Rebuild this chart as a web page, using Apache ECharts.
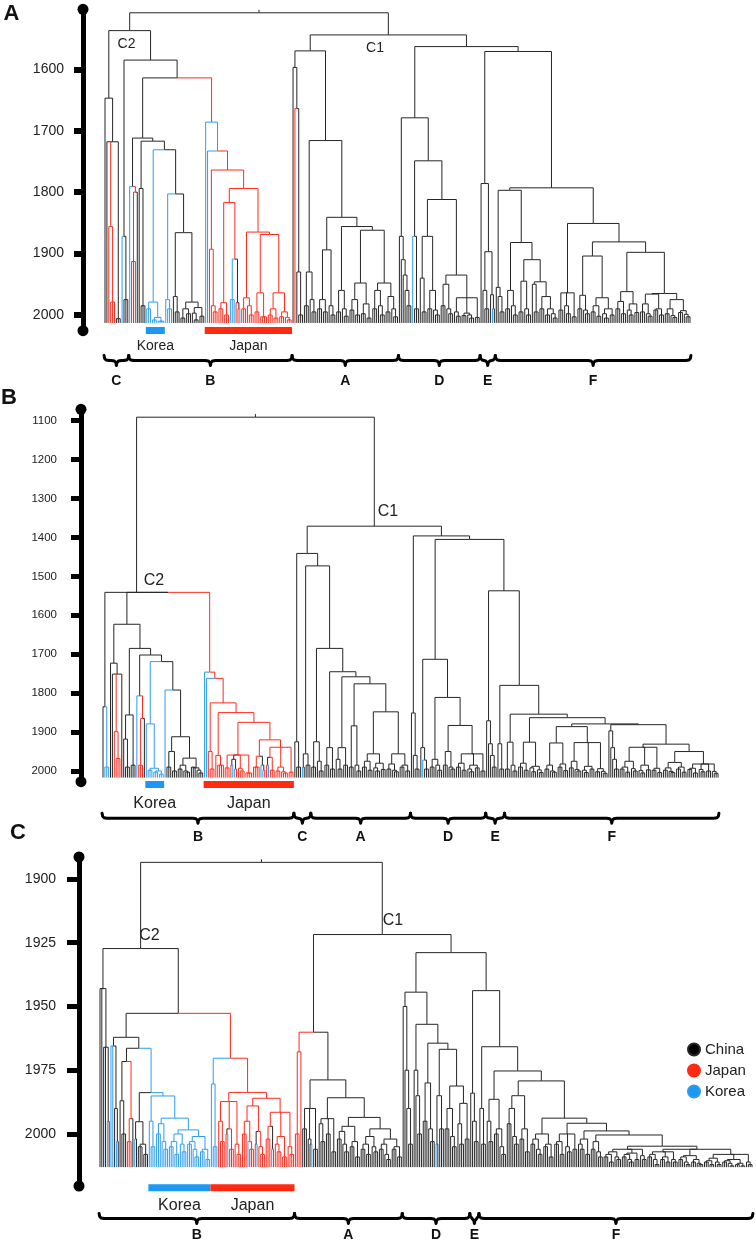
<!DOCTYPE html>
<html><head><meta charset="utf-8">
<script src="https://cdn.jsdelivr.net/npm/echarts@6/dist/echarts.min.js"></script>
<style>html,body{margin:0;padding:0;background:#fff}#c{width:756px;height:1246px}</style>
</head><body><div id="c"></div>
<script>
// ---------------- DATA ----------------
// Trees in a Newick-like notation: leaf = k (China) / r (Japan) / b (Korea), "k3" = 3 sibling leaves.
// "(...)YEAR[c]" = merge node at YEAR (optional forced colour). Markers: | bracket boundary, [ ] Korea bar, { } Japan bar.
const ticksA = [1600, 1700, 1800, 1900, 2000];
const ticksB = [1100, 1200, 1300, 1400, 1500, 1600, 1700, 1800, 1900, 2000];
const ticksC = [1900, 1925, 1950, 1975, 2000];
const bracketsA = ['C', 'B', 'A', 'D', 'E', 'F'];
const bracketsB = ['B', 'C', 'A', 'D', 'E', 'F'];
const bracketsC = ['B', 'A', 'D', 'E', 'F'];
const legendNames = ['China', 'Japan', 'Korea'];

// ---- Panel A ----
const A_L = "(k,(k,(r,(r2,r)1979)1856,(k3)2006)1718)1647";
const A_N1872 = "(b,(k2,k)1975)1872";
const A_N1791 = "(b,((r2,r)1913,k)1800)1791";
const A_N1794 = "(k,(k2,k)1985)1794";
const A_korea = "((b2,b)1990,((b3)2008,(b4)2010)2004)1979";
const A_N1975 = "(b,(b2,b)1990)1975";
const A_N1970 = "(k,(k3)1995)1970";
const A_N1979 = "(((k2,k)2005,(k2,k)1998)1990,((k,(k2,k)2008)1997,(k2,k)2002)1988)1979";
const A_J1893 = "(r,(r,(r2,r)1995)1985)1893";
const A_J219 = "((r2,r)1990,(r3)2000)1980";
const A_J232 = "((b2,b)1975,(r,(r,b)1990)1980)1909r";
const A_J242 = "((r2,r)1990,(r,(r2,r)2000)1985)1972";
const A_J261a = "((r2,r)1995,(r4)2003)1964";
const A_J261b = "(((r2,r)2000,(r2,r)2005)1990,((r2,r)2003,(r,(r2,r)2008)2004)1995)1964";
const A_AL = "(k,(r,(k,(k2,k)2000)1930)1664)1597";
const A_A299 = "((k2,k)1985,(k,(k2,k)1995)1975)1930";
const A_A307 = "(((k2,k)1990,(k2,k)1995)1975,(k,(k2,k)2000)1985)1894";
const A_A1856 = "((k2,k)1995,(k,(k2,k)2002)1990)1960";
const A_A1862L = "(((k2,k)1992,(k2,k)2000)1975,((k2,k)1998,(k3)2005)1982)1948";
const A_A1862R = "(((k2,k)1990,(k,(k2,k)2000)1985)1960,((k2,k)1995,(k,(k2,k)2003)1990)1970)1948";
const A_D398 = "(k,(k,(k,(k,(k2,k)1985)1960)1935)1910)1872";
const A_D410 = "(b,(k2,k)1990)1872";
const A_D420 = "((k,(k2,k)1995)1940,((k2,k)1990,(k,(k2,k)2000)1992)1960)1872";
const A_D448 = "(((k2,k)1985,(k,(k2,k)1998)1990)1950,((k,(k2,k)2002)1995,((k2,k)2001,(k,(k2,k)2005)2000)1997,(k2,k)2004)1972)1935";
const A_E = "(k,((k,(k2,k)1990)1960,(k,(b,k)1990)1967)1897)1786";
const A_F494 = "(k,(k,(k2,k)1995)1970)1955";
const A_F503 = "((k2,k)1990,(k,(k2,k)2000)1985)1960";
const A_F514 = "((k2,k)1995,(k,(k2,k)2000)1990)1945";
const A_F523 = "((k,(k2,k)1995)1950,((k2,k)1990,((k2,k)2000,(k,(k2,k)2005)1998)1990)1970)1946";
const A_F557 = "((k2,k)1992,(k,(k2,k)1998)1985,(k2,k)2003)1964";
const A_F574a = "((k2,k)1990,(k,(k2,k)1998)1992)1968";
const A_F574b = "(((k2,k)1995,(k2,k)2002)1985,((k,(k2,k)2005)1998,(k2,k)2000)1990)1972";
const A_F623 = "(((k2,k)1990,(k2,k)1998)1978,((k,(k2,k)2000)1992,(k2,k)1996)1982)1962";
const A_F648 = "((((k2,k)1995,(k,(k2,k)2002)1998)1982,((k2,k)1992,(k2,k)2000)1990)1966,(((k2,k)1998,(k,(k2,k)2004)2001)1990,((k2,k)1996,(k,(k2,k)2003)1999)1993)1975)1965";

const A_C2 = `(${A_L},(${A_N1872},|((${A_N1791},(${A_N1794},([${A_korea}],(${A_N1975},(${A_N1970},${A_N1979})1866)1803)1731)1717)1712,({b,(b,(${A_J1893},((${A_J219},${A_J232})1817r,(${A_J242},(${A_J261a},${A_J261b})1869)1865)1794)1764r)1733b})1686r)1614)1585)1537`;
const A_N1570 = `(${A_AL},(${A_A299},(${A_A307},(${A_A1856},(${A_A1862L},${A_A1862R})1862)1856)1841)1716)1570`;
const A_N1679 = `(${A_D398},(${A_D410},(${A_D420},${A_D448})1812)1749)1679`;
const A_N1793 = `((${A_F494},(${A_F503},(${A_F514},${A_F523})1910)1882)1797,(${A_F557},((${A_F574a},${A_F574b})1904,(${A_F623},${A_F648})1898)1881)1851)1793`;
const A_C1 = `(${A_N1570},|(${A_N1679},|(${A_E},|${A_N1793})1571)1563)1544`;
const treeA = `|(${A_C2},|${A_C1})1508|`;

// ---- Panel B ----
const B_LT = "(k,(b2,b)1990)1835k";
const B_N1723 = "(k,(k,(r,(r2,r)1968)1899,k)1751)1723";
const B_N1856 = "((k,(k2,k)1990)1918,(k2,k)1985)1856";
const B_N1807 = "(b,((r2,r)1985,k)1865)1807";
const B_korea = "(b,((b2,b)1998,((b2,b)2003,(b3)2008)2000)1993)1879";
const B_N1950 = "((k2,k)1990,(k2,k)2000)1950";
const B_N1967 = "(((k2,k)1995,(k,(k2,k)2003)2000)1985,((k2,k)1990,(k,(k2,k)2005)1998)1992)1967";
const B_J213 = "(r,(r2,r)1995)1950";
const B_J214 = "(r,(r3,r)1985)1960";
const B_J220 = "((r2,r)1992,((r,b)1985,(b,r)1995)1970,(r,(r2,r)2000)1993,(r3,r)2005)1959";
const B_J251 = "((r3,r)1990,(b,(b,r)1998)1985)1962r";
const B_J264 = "(((r,b)1985,(r2,r)1998)1965,((r2,r)2000,(r,(r2,r)2005)2002)1990,(r2,r)2003)1939";
const B_Cthin = "(k,(k2,k)1990)1925";
const B_Ccomb = "((b,k)1990,(k2,k)1985)1956";
const B_A304 = "((k2,k)1990,(k,(k2,k)2000)1975)1925";
const B_A307 = "((k2,k)1985,(k2,k)1995)1940";
const B_A317 = "((k,(k2,k)1995)1970,(k2,k)1985)1940";
const B_A1884 = "((k2,k)1990,(k,(k2,k)2000)1985)1884";
const B_A354 = "(((k2,k)1990,(k2,k)1998)1975,((k,(k2,k)2000)1992,(k2,k)1996)1980)1956";
const B_A380 = "(((k2,k)1995,(k,(k2,k)2002)1998)1982,((k2,k)1990,(k2,k)2000)1985)1956";
const B_Dthin = "(k,(k,(k2,k)1995)1960)1851";
const B_D412 = "(k,(b,(k2,k)1995)1972)1940";
const B_D418 = "((k2,k)1990,(k,(k2,k)1998)1985)1970";
const B_D428 = "((k2,k)1985,(k,(k2,k)1995)1990)1950";
const B_D460 = "(((k2,k)1990,(k2,k)1998)1980,((k,(k2,k)2002)1995,(k2,k)1992)1985,(k2,k)2000)1956";
const B_Ethin = "(k,(k,(k,(k2,k)1990)1960)1930)1871";
const B_E502 = "(k,(k2,k)1995)1930";
const B_F513 = "((k2,k)1995,(k,(k2,k)2000)1985)1926";
const B_F523 = "(((k2,k)1990,(k2,k)1998)1980,((k,(k2,k)2002)1992,(k,(k2,k)2004)1997)1988)1926";
const B_F573 = "(((k2,k)1995,(k,(k2,k)2003)2000)1985,((k2,k)1990,(k2,k)1999)1982)1928";
const B_F587 = "(((k2,k)1992,(k,(k2,k)2000)1996)1975,((k,(k2,k)2004)1998,(k2,k)1995)1988,((k2,k)2002,(k,(k2,k)2006)2001)1994)1927";
const B_F646 = "(k,(k,(k,(k2,k)1995)1970)1940)1897";
const B_F666 = "((((k2,k)1995,(k2,k)2003)1990,(k,(k2,k)2000)1994)1975,((k,(k2,k)2005)1999,(k2,k)1997)1985,((k2,k)1998,(k2,k)2004)1993)1939";
const B_F692 = "((((k2,k)1998,(k,(k2,k)2004)2001)1992,((k2,k)1995,(k2,k)2003)1990)1978,(((k2,k)1996,(k2,k)2005)1993,(k,(k2,k)2002)1996,(k2,k)2000,(k,(k2,k)2006)2001)1982)1950";

const B_N1623 = `(${B_N1723},(${B_N1856},(${B_N1807},([${B_korea}],(b,(${B_N1950},${B_N1967})1912)1792)1719)1702)1685)1623`;
const B_Japan = `({b,(b,(${B_J213},(${B_J214},(${B_J220},(${B_J251},${B_J264})1920)1875)1850)1825)1762r})1746r`;
const B_C2 = `(${B_LT},(${B_N1623},${B_Japan})1541)1541`;
const B_N1441 = `(${B_Cthin},(${B_Ccomb},|(${B_A304},(${B_A307},(${B_A317},(${B_A1884},(${B_A354},${B_A380})1848)1776)1758)1745)1685)1473)1441`;
const B_N1780 = `(${B_E502},|(${B_F513},(${B_F523},((${B_F573},${B_F587})1886,(${B_F646},(${B_F666},${B_F692})1931)1881)1879)1863)1854)1780`;
const B_N1396 = `(${B_Dthin},((${B_D412},(${B_D418},(${B_D428},${B_D460})1883)1811)1713,|(${B_Ethin},${B_N1780})1537)1405)1396`;
const B_C1 = `(${B_N1441},|${B_N1396})1371`;
const treeB = `|(${B_C2},|${B_C1})1091|`;

// ---- Panel C ----
const C_Lthin = "(k2,(k2,(b,k)1995)1966)1943";
const C_104 = "(b2,(k,(b,k)2003)1990)1965.5";
const C_1972 = "((k,(k2,k)2000)1987,((r2,r)2003,k)1994)1971.6";
const C_129 = "((b,k)2002,((k2,k)2005,(k2,k)2008)2004)1995.2";
const C_K1 = "(b,(b2,b)2005)1995";
const C_K159 = "((b2,b)2000,(b,(b2,b)2006)2003)1996";
const C_K171 = "(((b2,b)2005,(b2,b)2008)2003,(b,(b2,b)2007)2004)2000";
const C_K190 = "(((b2,b)2004,(b,(b2,b)2009)2006)2003,((b2,b)2007,(b2,b)2010)2006)2001";
const C_Jb = "(b,(b2,b)2005)1980.4";
const C_J223 = "((r,(r2,r)2003)1995,((r,b)2000,(r2,r)2006)1998,(r,(r2,r)2008)2004)1987.3";
const C_J250 = "(((r2,r)2000,(b,(r2,r)2006)2003)1995,((r,b)2004,(r,(r2,r)2008)2005)1999)1989";
const C_J280 = "(((r2,r)2002,(b,r)2006)1997,((r,(r2,r)2007)2004,(r2,r)2009)2001,(r,(r2,r)2008)2005)1991.5";
const C_Red = "((r2,r)2000,r)1967.8";
const C_A302 = "((k2,k)1998,(k,(k,b)2004)2002,(k2,k)2006)1990";
const C_A308 = "((k,(k2,k)2003)1996,(k2,k)2000,(k2,k)2007)1994";
const C_A328 = "(((k2,k)2002,(k,(k2,k)2007)2004)1999,((k2,k)2005,(k2,k)2009)2003)1997";
const C_A380 = "((((k2,k)2006,(k2,k)2008)2004,(k,(k2,k)2007)2005)2001,(((k2,k)2006,(k,(k2,k)2010)2008)2004,((k2,k)2006,(k2,k)2009)2005)2002)1998";
const C_Dthin = "(k,(k,(k,(k2,k)2004)1990)1975)1950";
const C_D409 = "(k,(k,(k2,k)2000)1985)1975";
const C_D413 = "((k2,k)1995,(k,(k2,k)2003)1998)1980";
const C_D421 = "((b,k)2004,(k2,k)1998)1985";
const C_D430 = "((k2,k)1998,(k,(k2,k)2005)2001)1990";
const C_D444 = "((k,(k2,k)2004)1996,(k2,k)2002)1988";
const C_Ethin = "(k,(k,(k2,k)2003)1995)1984";
const C_F489 = "(k,(k2,k)2004)1990";
const C_F497 = "((k,(k2,k)2003)1995,((k2,k)2000,(k,(k2,k)2008)2005)1998)1986.4";
const C_F508 = "(((k2,k)1996,(k,(k2,k)2004)2001)1990,((k2,k)2002,(k2,k)2007)1998)1985";
const C_F571 = "(((k2,k)2004,(k,(k2,k)2008)2006)2002,((k2,k)2005,(k2,k)2009)2004)2000";
const C_F584 = "(((k2,k)2004,(k2,k)2008)2003,(k,(k2,k)2007)2005,(k2,k)2006)2000";
const C_F619 = "((k,(k2,k)2006)2004,(k2,k)2008)2002";
const C_F620 = "((k2,k)2006,(k,(k2,k)2009)2007)2003";
const C_F632 = "((((k2,k)2009,(k2,k)2011)2008,(k,(k2,k)2010)2009)2007,(((k2,k)2009,(k,(k2,k)2011)2010)2008,(k2,k)2010)2007.5,(k,(k2,k)2010)2008.5)2006";
const C_F663 = "(((k2,k)2009,(k,(k2,k)2012)2010)2008,((k2,k)2010,(k2,k)2011)2009,(k,(k2,k)2011)2010)2007";
const C_F690 = "(((k2,k)2010,(k,(k2,k)2012)2011)2009,((k2,k)2011,(k,(k2,k)2012)2011.5)2010)2008.5";
const C_F703 = "((((k2,k)2011,(k2,k)2012)2010.5,(k,(k2,k)2012)2011)2009.5,(((k2,k)2011,(k,(k2,k)2012.5)2011.5)2010.5,((k2,k)2012,(k2,k)2012.5)2011.5)2010,(k,(k2,k)2012)2011)2008";

const C_Korea = `(${C_K1},(${C_K159},(${C_K171},${C_K190})1998.4)1993.8)1985.1`;
const C_Japan = `({${C_Jb},(${C_J223},(${C_J250},${C_J280})1986)1983.7})1970.3`;
const C_C2 = `(${C_Lthin},((${C_104},(${C_1972},(${C_129},[${C_Korea}])1983.8)1966.4)1962.1,${C_Japan})1952.7)1927.3`;
const C_N1960 = `(${C_Red},(${C_A302},(${C_A308},(${C_A328},${C_A380})1993.5)1985.8)1978.8)1960.1`;
const C_N1944 = `(${C_Dthin},(${C_D409},(${C_D413},(${C_D421},(${C_D430},${C_D444})1981.2)1966.8)1964.4)1957)1944.4`;
const C_F = `(${C_F489},(${C_F497},(${C_F508},(${C_F571},(${C_F584},(${C_F619},(${C_F620},(${C_F632},(${C_F663},${C_F690},${C_F703})2006)2004.8)2000.4)1998.8)1995.8)1993.8)1979.2)1975.3)1965.8`;
const C_C1 = `(${C_N1960},|(${C_N1944},|(${C_Ethin},|${C_F})1943.8)1928.9)1921.8`;
const treeC = `|(${C_C2},|${C_C1})1893.5|`;

// ---------------- PARSE / LAYOUT ----------------
function parseTree(str) {
  let i = 0, leafCount = 0;
  const marks = { br: [], kor: [], jap: [] };
  function skip() {
    while (i < str.length) {
      const c = str[i];
      if (c === ' ' || c === '\n') { i++; continue; }
      if (c === '|') { marks.br.push(leafCount - 0.5); i++; continue; }
      if (c === '[' || c === ']') { marks.kor.push(leafCount - 0.5); i++; continue; }
      if (c === '{' || c === '}') { marks.jap.push(leafCount - 0.5); i++; continue; }
      break;
    }
  }
  function readNum() { const s = i; while (i < str.length && /[0-9.]/.test(str[i])) i++; return parseFloat(str.slice(s, i)); }
  function parseNode() {
    skip();
    if (str[i] === '(') {
      i++;
      const kids = [];
      for (;;) {
        kids.push(...parseNode());
        skip();
        if (str[i] === ',') { i++; continue; }
        if (str[i] === ')') { i++; break; }
        throw new Error('tree parse error near: ' + str.slice(Math.max(0, i - 20), i + 20));
      }
      const h = readNum();
      let ec = null;
      if (i < str.length && /[krb]/.test(str[i])) { ec = str[i]; i++; }
      return [{ h, ec, kids }];
    }
    const c = str[i];
    if (!/[krb]/.test(c)) throw new Error('leaf parse error near: ' + str.slice(Math.max(0, i - 20), i + 20));
    i++;
    let n = 1;
    if (i < str.length && /[0-9]/.test(str[i])) n = readNum();
    const out = [];
    for (let j = 0; j < n; j++) out.push({ leaf: true, c, idx: leafCount++ });
    return out;
  }
  const root = parseNode()[0];
  skip();
  return { root, marks, n: leafCount };
}

function layout(tree, base) {
  const segs = { k: [], r: [], b: [] };
  (function walk(n) {
    if (n.leaf) { n.x = n.idx; n.y = base; n.cnt = { k: 0, r: 0, b: 0 }; n.cnt[n.c] = 1; return; }
    n.kids.forEach(walk);
    n.x = (n.kids[0].x + n.kids[n.kids.length - 1].x) / 2;
    n.y = n.h;
    n.cnt = { k: 0, r: 0, b: 0 };
    n.kids.forEach(kd => { for (const c in kd.cnt) n.cnt[c] += kd.cnt[c]; });
    if (n.ec) n.c = n.ec;
    else {
      const tot = n.cnt.k + n.cnt.r + n.cnt.b;
      let best = 'k';
      ['k', 'r', 'b'].forEach(c => { if (n.cnt[c] > n.cnt[best]) best = c; });
      n.c = n.cnt[best] / tot >= 0.75 ? best : 'k';
    }
    n.kids.forEach(kd => segs[kd.c].push({ coords: [[kd.x, kd.y], [kd.x, n.y], [n.x, n.y]] }));
  })(tree.root);
  return segs;
}

// ---------------- STYLE / PANEL CONFIG ----------------
const COL = { k: '#262626', r: '#ff2a1c', b: '#2e9cf2' };
const BAR = { kor: '#1c98f2', jap: '#ff2a10' };
const panels = [
  { src: treeA, base: 2013, yMin: 1502.3, yMax: 2025.6, ticks: ticksA, grid: { left: 105, top: 9.3, width: 585, height: 321.4 },
    offset: 22, lab: 14, margin: 19, tickLen: 9, tickW: 6, stubPx: 3, braceY: 360.5, braceLabY: 381, braceNames: bracketsA,
    barY: 327, barFont: 14, barLabY: 346, cl: [['C2', 126.5, 44.5], ['C1', 375, 48]], clFont: 14, letter: ['A', 11.5, 14] },
  { src: treeB, base: 2017, yMin: 1070.7, yMax: 2027.5, ticks: ticksB, grid: { left: 103, top: 409.3, width: 615, height: 372.4 },
    offset: 22, lab: 11.5, margin: 24, tickLen: 10, tickW: 5, stubPx: 3, braceY: 818.3, braceLabY: 837, braceNames: bracketsB,
    barY: 781, barFont: 16, barLabY: 803.5, cl: [['C2', 154, 581], ['C1', 388, 512]], clFont: 16, letter: ['B', 9, 398] },
  { src: treeC, base: 2013, yMin: 1891.4, yMax: 2020.4, ticks: ticksC, grid: { left: 100, top: 857, width: 652, height: 329 },
    offset: 21, lab: 14, margin: 23, tickLen: 12, tickW: 5, stubPx: 3, braceY: 1218.5, braceLabY: 1235.5, braceNames: bracketsC,
    barY: 1184.3, barFont: 16, barLabY: 1206, cl: [['C2', 149.5, 936], ['C1', 393, 921]], clFont: 16, letter: ['C', 18, 833] }
];

const chart = echarts.init(document.getElementById('c'), null, { renderer: 'canvas' });
const grids = [], xAxes = [], yAxes = [], series = [];
const FONT = 'Arial, "Liberation Sans", sans-serif';

panels.forEach((p, pi) => {
  p.tree = parseTree(p.src);
  const segs = layout(p.tree, p.base);
  const root = p.tree.root;
  const pxPerYear = p.grid.height / (p.yMax - p.yMin);
  segs.k.push({ coords: [[root.x, root.y], [root.x, root.y - p.stubPx / pxPerYear]] });
  grids.push(Object.assign({ containLabel: false }, p.grid));
  xAxes.push({ type: 'value', gridIndex: pi, min: 0, max: p.tree.n - 1, show: false });
  yAxes.push({
    type: 'value', gridIndex: pi, inverse: true, min: p.yMin, max: p.yMax, position: 'left', offset: p.offset,
    axisLine: { show: true, onZero: false, symbol: ['circle', 'circle'], symbolSize: [11, 11], lineStyle: { color: '#000', width: 5 } },
    axisTick: { show: true, inside: false, length: p.tickLen, customValues: p.ticks, lineStyle: { color: '#000', width: p.tickW } },
    axisLabel: { show: true, customValues: p.ticks, formatter: v => String(v), margin: p.margin, fontSize: p.lab, color: '#222', fontFamily: FONT },
    splitLine: { show: false }
  });
  [['k', 'China'], ['r', 'Japan'], ['b', 'Korea']].forEach(([c, name]) => {
    series.push({
      type: 'lines', name, coordinateSystem: 'cartesian2d', xAxisIndex: pi, yAxisIndex: pi, polyline: true, silent: true,
      color: COL[c], itemStyle: { color: COL[c] }, lineStyle: { color: COL[c], width: 1, opacity: 1 },
      data: segs[c], animation: false, z: c === 'k' ? 2 : 3
    });
  });
});

chart.setOption({
  animation: false,
  grid: grids, xAxis: xAxes, yAxis: yAxes, series,
  legend: {
    data: [
      { name: legendNames[0], itemStyle: { color: '#000' } },
      { name: legendNames[1], itemStyle: { color: '#ff2a10' } },
      { name: legendNames[2], itemStyle: { color: '#1c98f2' } }
    ],
    orient: 'vertical', left: 682, top: 1037, icon: 'circle', itemWidth: 12, itemHeight: 12, itemGap: 6,
    textStyle: { fontSize: 15, color: '#222', fontFamily: FONT }, selectedMode: false
  }
});

// ---------------- ANNOTATIONS (brackets, bars, labels) ----------------
function bracePoints(x0, x1, y) {
  const h = Math.min(5, (x1 - x0) / 4), xm = (x0 + x1) / 2;
  return [[x0, y - 5], [x0 + 0.6, y - 2], [x0 + 2, y - 0.5], [x0 + h, y], [xm - h, y], [xm - 2, y + 0.5], [xm - 0.6, y + 2], [xm, y + 5],
          [xm + 0.6, y + 2], [xm + 2, y + 0.5], [xm + h, y], [x1 - h, y], [x1 - 2, y - 0.5], [x1 - 0.6, y - 2], [x1, y - 5]];
}
const gfx = [];
panels.forEach((p, pi) => {
  const toX = v => chart.convertToPixel({ gridIndex: pi }, [v, p.base])[0];
  const br = p.tree.marks.br;
  for (let j = 0; j + 1 < br.length; j++) {
    const x0 = toX(br[j]), x1 = toX(br[j + 1]);
    gfx.push({ type: 'polyline', shape: { points: bracePoints(x0, x1, p.braceY) }, style: { stroke: '#000', lineWidth: 3, fill: null, lineJoin: 'round', lineCap: 'round' }, silent: true });
    gfx.push({ type: 'text', x: (x0 + x1) / 2, y: p.braceLabY, style: { text: p.braceNames[j] || '', font: `bold 14px ${FONT}`, fill: '#111', align: 'center', verticalAlign: 'middle' }, silent: true });
  }
  [['kor', 'Korea'], ['jap', 'Japan']].forEach(([key, name]) => {
    const m = p.tree.marks[key];
    if (m.length < 2) return;
    const x0 = toX(m[0]), x1 = toX(m[1]);
    gfx.push({ type: 'rect', shape: { x: x0, y: p.barY, width: x1 - x0, height: 7 }, style: { fill: BAR[key] }, silent: true });
    gfx.push({ type: 'text', x: (x0 + x1) / 2, y: p.barLabY, style: { text: name, font: `${p.barFont}px ${FONT}`, fill: '#222', align: 'center', verticalAlign: 'middle' }, silent: true });
  });
  p.cl.forEach(([t, x, y]) => gfx.push({ type: 'text', x, y, style: { text: t, font: `${p.clFont}px ${FONT}`, fill: '#222', align: 'center', verticalAlign: 'middle' }, silent: true }));
  gfx.push({ type: 'text', x: p.letter[1], y: p.letter[2], style: { text: p.letter[0], font: `bold 22px ${FONT}`, fill: '#111', align: 'center', verticalAlign: 'middle' }, silent: true });
});
chart.setOption({ graphic: { elements: gfx } });
</script></body></html>
